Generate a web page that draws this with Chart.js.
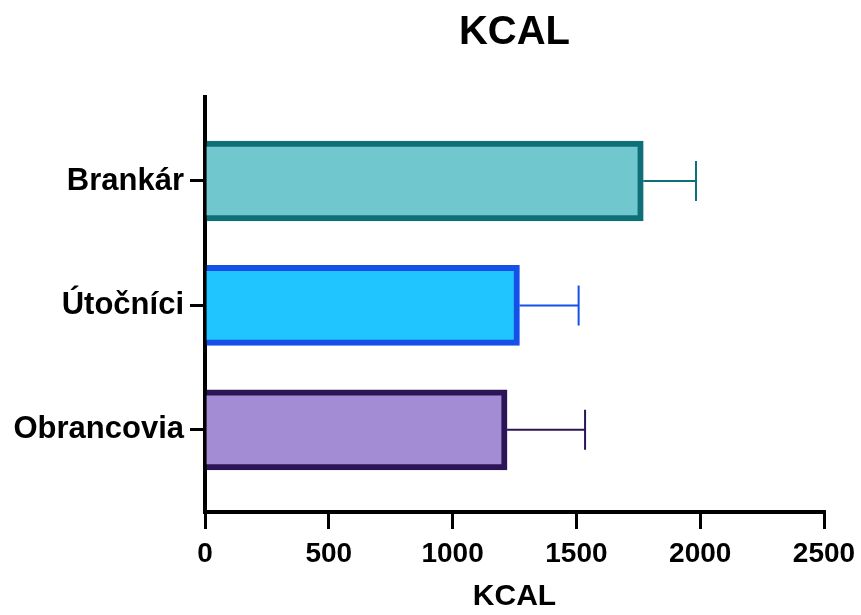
<!DOCTYPE html>
<html>
<head>
<meta charset="utf-8">
<script src="https://cdn.jsdelivr.net/npm/chart.js@4/dist/chart.umd.min.js"></script>
<style>
  html, body { margin: 0; padding: 0; background: #fff; }
  #wrap { width: 861px; height: 615px; }
</style>
</head>
<body>
<div id="wrap"><canvas id="kcalChart" width="861" height="615"></canvas></div>
<script>
// data
var groups = ['Brankár', 'Útočníci', 'Obrancovia'];
var kcalMean = [1770, 1270, 1220];
var kcalSD = [213, 239, 315];
var xTicks = [0, 500, 1000, 1500, 2000, 2500];

var fillColors = ['#70C7CE', '#20C5FF', '#A48CD4'];
var edgeColors = ['#0F6F78', '#1550E8', '#2C1556'];

var fontFam = '"Liberation Sans", Arial, Helvetica, sans-serif';

// error bars (mean + SD), drawn through the chart scales
var errorBars = {
  id: 'errorBars',
  afterDatasetsDraw: function(chart) {
    var xs = chart.scales.x, ys = chart.scales.y;
    var ctx = chart.ctx;
    ctx.save();
    for (var i = 0; i < groups.length; i++) {
      var x0 = xs.getPixelForValue(kcalMean[i]);
      var x1 = xs.getPixelForValue(kcalMean[i] + kcalSD[i]);
      var y = ys.getPixelForValue(i);
      ctx.strokeStyle = edgeColors[i];
      ctx.lineWidth = 2;
      ctx.beginPath();
      ctx.moveTo(x0, y);
      ctx.lineTo(x1, y);
      ctx.moveTo(x1, y - 20);
      ctx.lineTo(x1, y + 20);
      ctx.stroke();
    }
    ctx.restore();
  }
};

var ctx = document.getElementById('kcalChart').getContext('2d');
new Chart(ctx, {
  type: 'bar',
  data: {
    datasets: [{
      data: kcalMean.map(function(v, i) { return { x: v, y: i }; }),
      backgroundColor: fillColors,
      borderColor: edgeColors,
      borderWidth: 6,
      borderSkipped: 'start',
      barThickness: 80
    }]
  },
  options: {
    indexAxis: 'y',
    responsive: false,
    animation: false,
    layout: { padding: { left: 0, right: 37, top: 0, bottom: 0 } },
    plugins: {
      legend: { display: false },
      tooltip: { enabled: false },
      title: {
        display: true,
        fullSize: false,
        text: 'KCAL',
        color: '#000',
        font: { family: fontFam, size: 40, weight: 'bold' },
        padding: { top: 9, bottom: 40 }
      }
    },
    scales: {
      x: {
        type: 'linear',
        min: 0,
        max: 2500,
        z: 1,
        afterBuildTicks: function(scale) {
          scale.ticks = xTicks.map(function(v) { return { value: v }; });
        },
        afterFit: function(scale) {
          scale.height = 103;
          scale.paddingRight = 0;
        },
        grid: { drawOnChartArea: false, color: '#000', lineWidth: 3, tickLength: 17 },
        border: { display: true, color: '#000', width: 4 },
        ticks: {
          color: '#000',
          padding: 8,
          maxRotation: 0,
          font: { family: fontFam, size: 28, weight: 'bold' },
          callback: function(v) { return String(v); }
        },
        title: {
          display: true,
          text: 'KCAL',
          color: '#000',
          padding: { top: 4, bottom: 0 },
          font: { family: fontFam, size: 30, weight: 'bold' }
        }
      },
      y: {
        type: 'linear',
        reverse: true,
        offset: false,
        min: -0.675,
        max: 2.66,
        z: 1,
        afterBuildTicks: function(scale) {
          scale.ticks = groups.map(function(g, i) { return { value: i }; });
        },
        afterFit: function(scale) { scale.width = 205; },
        grid: { offset: false, drawOnChartArea: false, color: '#000', lineWidth: 3, tickLength: 15 },
        border: { display: true, color: '#000', width: 4 },
        ticks: {
          color: '#000',
          padding: 6,
          font: { family: fontFam, size: 31, weight: 'bold' },
          callback: function(v) { return groups[v]; }
        }
      }
    }
  },
  plugins: [errorBars]
});
</script>
</body>
</html>
